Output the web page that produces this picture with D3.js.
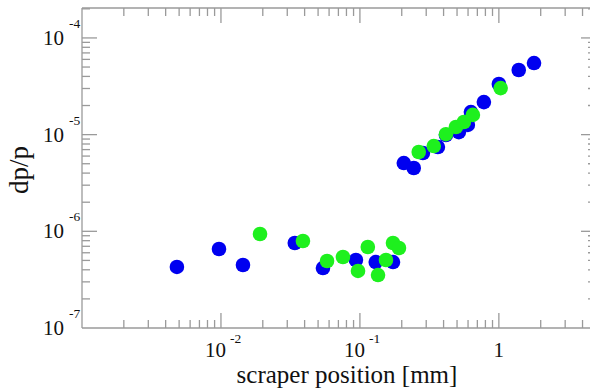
<!DOCTYPE html>
<html><head><meta charset="utf-8">
<script src="https://cdn.jsdelivr.net/npm/d3@7"></script>
<style>body{margin:0;background:#fff;overflow:hidden} svg{display:block}</style>
</head><body><svg id="c" width="590" height="391"></svg>
<script>
// ---- data ----
const blueX = [0.00482,0.00968,0.0144,0.0340,0.0542,0.0936,0.130,0.173,0.207,0.244,0.284,0.364,0.416,0.515,0.598,0.629,0.780,1.00,1.39,1.79];
const blueY = [4.28e-7,6.56e-7,4.48e-7,7.57e-7,4.17e-7,5.05e-7,4.81e-7,4.81e-7,5.08e-6,4.52e-6,6.45e-6,7.44e-6,9.90e-6,1.06e-5,1.26e-5,1.71e-5,2.17e-5,3.34e-5,4.66e-5,5.50e-5];
const greenX = [0.0191,0.0389,0.0580,0.0755,0.0969,0.114,0.135,0.154,0.173,0.191,0.265,0.340,0.416,0.491,0.560,0.650,1.03];
const greenY = [9.38e-7,7.94e-7,4.93e-7,5.42e-7,3.89e-7,6.88e-7,3.53e-7,5.05e-7,7.57e-7,6.72e-7,6.61e-6,7.62e-6,1.01e-5,1.20e-5,1.35e-5,1.60e-5,3.03e-5];
const xMajor = [0.01, 0.1, 1];
const xMajorBase = ["10", "10", "1"];
const xMajorExp = ["-2", "-1", ""];
const yMajor = [1e-7, 1e-6, 1e-5, 1e-4];
const yMajorExp = ["-7", "-6", "-5", "-4"];
const xDomain = [1e-3, 5];
const yDomain = [1e-7, 2.04e-4];
const xTitle = "scraper position [mm]";
const yTitle = "dp/p";

// ---- layout ----
const L = 82, R = 596, T = 8, B = 328;
const svg = d3.select("#c");
const x = d3.scaleLog().domain(xDomain).range([L, R]);
const y = d3.scaleLog().domain(yDomain).range([B, T]);
const axisColor = "#9a9a9a";
const font = "'Liberation Serif','Times New Roman',serif";
const isMajor = v => Math.abs(Math.log10(v) - Math.round(Math.log10(v))) < 1e-6;
const tl = v => isMajor(v) ? 15 : 8;

const xt = x.ticks().filter(v => v > xDomain[0] * 1.0001);
const yt = y.ticks().filter(v => v > yDomain[0] * 1.0001 && v < yDomain[1] * 0.999);

const ax = svg.append("g").attr("stroke", axisColor).attr("stroke-width", 1.3);
// frame
ax.append("line").attr("x1", L).attr("x2", R).attr("y1", B).attr("y2", B);
ax.append("line").attr("x1", L).attr("x2", R).attr("y1", T).attr("y2", T);
ax.append("line").attr("x1", L).attr("x2", L).attr("y1", T).attr("y2", B);
ax.append("line").attr("x1", R).attr("x2", R).attr("y1", T).attr("y2", B);
// x ticks bottom & top
ax.selectAll(".xb").data(xt).join("line")
  .attr("x1", d => x(d)).attr("x2", d => x(d)).attr("y1", B).attr("y2", d => B - tl(d));
ax.selectAll(".xt").data(xt).join("line")
  .attr("x1", d => x(d)).attr("x2", d => x(d)).attr("y1", T).attr("y2", d => T + tl(d));
// y ticks left & right
ax.selectAll(".yl").data(yt).join("line")
  .attr("y1", d => y(d)).attr("y2", d => y(d)).attr("x1", L).attr("x2", d => L + tl(d));
ax.selectAll(".yr").data(yt).join("line")
  .attr("y1", d => y(d)).attr("y2", d => y(d)).attr("x1", R).attr("x2", d => R - tl(d));

// tick labels
const lab = svg.append("g").attr("font-family", font).attr("fill", "#111");
xMajor.forEach((v, i) => {
  if (xMajorExp[i] === "") {
    lab.append("text").attr("x", x(v)).attr("y", B + 29).attr("text-anchor", "middle")
      .attr("font-size", 21).text(xMajorBase[i]);
  } else {
    lab.append("text").attr("x", x(v) + 5).attr("y", B + 29).attr("text-anchor", "end")
      .attr("font-size", 21).text(xMajorBase[i]);
    lab.append("text").attr("x", x(v) + 9).attr("y", B + 15).attr("text-anchor", "start")
      .attr("font-size", 13.5).text(xMajorExp[i]);
  }
});
yMajor.forEach((v, i) => {
  lab.append("text").attr("x", 64).attr("y", y(v) + 7).attr("text-anchor", "end")
    .attr("font-size", 21).text("10");
  lab.append("text").attr("x", 69).attr("y", y(v) - 10).attr("text-anchor", "start")
    .attr("font-size", 13.5).text(yMajorExp[i]);
});

// titles
svg.append("text").attr("x", 347).attr("y", 383).attr("text-anchor", "middle")
  .attr("font-family", font).attr("font-size", 25).attr("fill", "#111").text(xTitle);
svg.append("text").attr("transform", "translate(28,170) rotate(-90)").attr("text-anchor", "middle")
  .attr("font-family", font).attr("font-size", 27).attr("fill", "#111").text(yTitle);

// points
const blue = blueX.map((v, i) => [v, blueY[i]]);
const green = greenX.map((v, i) => [v, greenY[i]]);
svg.append("g").selectAll("circle").data(blue).join("circle")
  .attr("cx", d => x(d[0])).attr("cy", d => y(d[1])).attr("r", 7.3).attr("fill", "#0000f0");
svg.append("g").selectAll("circle").data(green).join("circle")
  .attr("cx", d => x(d[0])).attr("cy", d => y(d[1])).attr("r", 7.3).attr("fill", "#1ef01e");
</script></body></html>
